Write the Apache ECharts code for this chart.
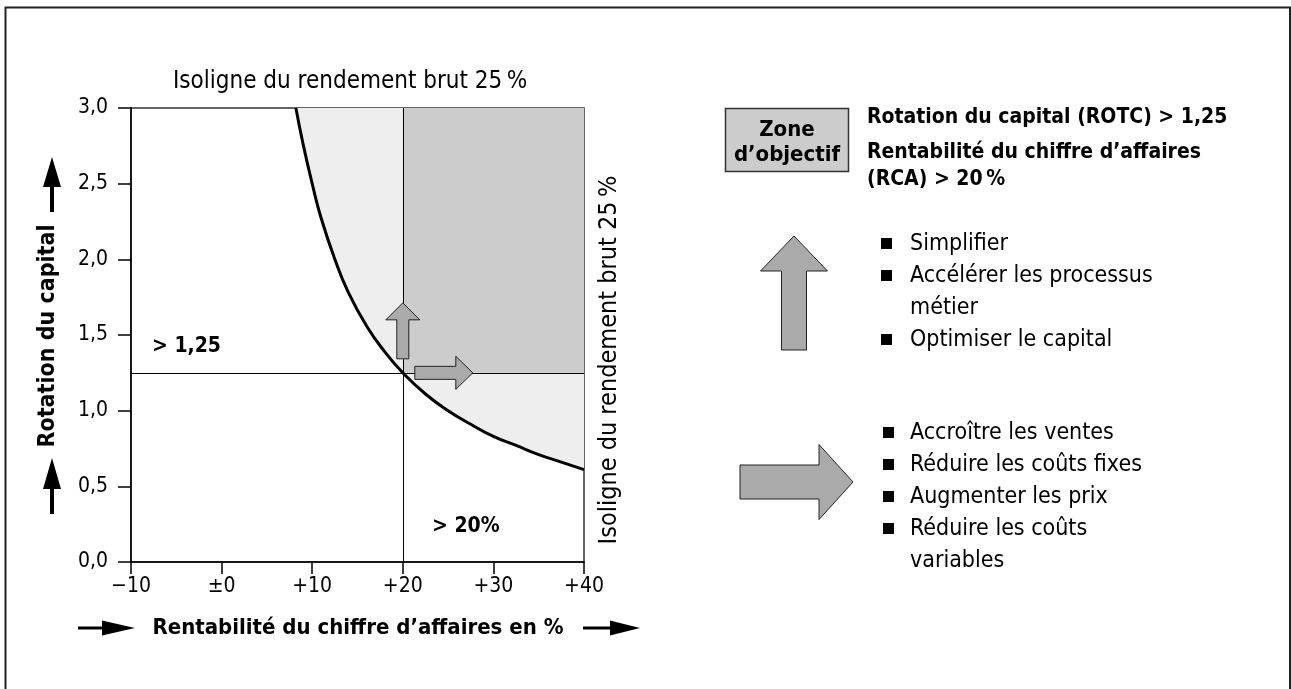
<!DOCTYPE html>
<html>
<head>
<meta charset="utf-8">
<script src="https://cdn.jsdelivr.net/npm/echarts@6/dist/echarts.min.js"></script>
<style>
html, body { margin: 0; padding: 0; background: #fff; }
#chart { width: 1291px; height: 689px; }
</style>
</head>
<body>
<div id="chart"></div>
<script>
// ticks
var xTicks = [-10, 0, 10, 20, 30, 40];
var xTickLabels = ['\u221210', '\u00b10', '+10', '+20', '+30', '+40'];
var yTickLabels = ['0,0', '0,5', '1,0', '1,5', '2,0', '2,5', '3,0'];

// isoligne du rendement brut 25 %
var isoRca = [8.2, 9, 10, 11, 12.5, 14, 16, 18, 20, 22.5, 25, 27.5, 30, 32.5, 35, 37.5, 40];
var isoRotc = [3.0, 2.76, 2.5, 2.27, 2.0, 1.78, 1.56, 1.39, 1.25, 1.11, 1.0, 0.91, 0.83, 0.77, 0.71, 0.66, 0.61];

// zone d'objectif
var zoneRca = 20;
var zoneRotc = 1.25;

var listUp = ['Simplifier', 'Acc\u00e9l\u00e9rer les processus\nm\u00e9tier', 'Optimiser le capital'];
var listRight = ['Accro\u00eetre les ventes', 'R\u00e9duire les co\u00fbts fixes', 'Augmenter les prix', 'R\u00e9duire les co\u00fbts\nvariables'];

var FONT = "'Liberation Sans Narrow','DejaVu Sans Condensed',sans-serif";

var isoData = isoRca.map(function (v, i) { return [v, isoRotc[i]]; });

var myChart = echarts.init(document.getElementById('chart'));

function txt(s, x, y, size, bold, align, rot) {
    return {
        type: 'text', x: x, y: y, rotation: rot || 0, z: 20,
        style: {
            text: s, fill: '#000',
            font: (bold ? 'bold ' : '') + size + 'px ' + FONT,
            textAlign: align || 'left', align: align || 'left',
            textVerticalAlign: 'middle', verticalAlign: 'middle',
            lineHeight: 32
        }
    };
}
function poly(pts, fill, stroke) {
    return {
        type: 'polygon', z: 20,
        shape: { points: pts },
        style: { fill: fill, stroke: stroke || null, lineWidth: 1 }
    };
}
// fleche vers le haut
function upArrow(cx, tipY, headW, headH, shaftW, bottom, fill, stroke) {
    var h = headW / 2, s = shaftW / 2, b = tipY + headH;
    return poly([[cx, tipY], [cx + h, b], [cx + s, b], [cx + s, bottom], [cx - s, bottom], [cx - s, b], [cx - h, b]], fill, stroke);
}
// fleche vers la droite
function rightArrow(cy, tipX, headH, headW, shaftH, left, fill, stroke) {
    var h = headH / 2, s = shaftH / 2, b = tipX - headW;
    return poly([[tipX, cy], [b, cy + h], [b, cy + s], [left, cy + s], [left, cy - s], [b, cy - s], [b, cy - h]], fill, stroke);
}

var graphics = [
    // cadre
    { type: 'rect', z: 0, shape: { x: 5.5, y: 7.5, width: 1284.5, height: 700 }, style: { fill: null, stroke: '#222', lineWidth: 2 } },
    txt('Isoligne du rendement brut 25\u202f%', 173, 82, 24, false),
    txt('Isoligne du rendement brut 25\u202f%', 609, 360, 25, false, 'center', Math.PI / 2),
    txt('Rotation du capital', 48, 336, 23, true, 'center', Math.PI / 2),
    txt('Rentabilit\u00e9 du chiffre d\u2019affaires en %', 358, 628, 22, true, 'center'),
    txt('> 1,25', 152, 347, 21, true),
    txt('> 20%', 432, 527, 21, true),
    upArrow(52, 157, 18, 30, 4, 212, '#000'),
    upArrow(52, 458, 18, 31, 4, 514, '#000'),
    rightArrow(628, 135, 15, 33, 3, 78, '#000'),
    rightArrow(628, 640, 15, 30, 3, 583, '#000'),
    // legende
    { type: 'rect', z: 20, shape: { x: 725.5, y: 108.5, width: 123, height: 63 }, style: { fill: '#cccccc', stroke: '#333', lineWidth: 1.5 } },
    txt('Zone', 787, 130, 22, true, 'center'),
    txt('d\u2019objectif', 787, 155, 22, true, 'center'),
    txt('Rotation du capital (ROTC) > 1,25', 867, 118, 21, true),
    txt('Rentabilit\u00e9 du chiffre d\u2019affaires', 867, 153, 21, true),
    txt('(RCA) > 20\u202f%', 867, 180, 21, true),
    upArrow(794, 236, 67, 35, 25, 350, '#aaaaaa', '#222'),
    rightArrow(482, 853, 75, 34, 34, 740, '#aaaaaa', '#222')
];

var yy = 243;
listUp.forEach(function (s) {
    graphics.push({ type: 'rect', z: 20, shape: { x: 881, y: yy - 5, width: 11, height: 11 }, style: { fill: '#000' } });
    var t = txt(s, 910, yy, 23, false);
    t.style.verticalAlign = t.style.textVerticalAlign = 'top';
    t.y = yy - 15;
    graphics.push(t);
    yy += 32 * s.split('\n').length;
});
yy = 432;
listRight.forEach(function (s) {
    graphics.push({ type: 'rect', z: 20, shape: { x: 883, y: yy - 5, width: 11, height: 11 }, style: { fill: '#000' } });
    var t = txt(s, 910, yy, 23, false);
    t.style.verticalAlign = t.style.textVerticalAlign = 'top';
    t.y = yy - 15;
    graphics.push(t);
    yy += 32 * s.split('\n').length;
});

var option = {
    animation: false,
    grid: { left: 131, top: 108, width: 453, height: 454, show: true, borderColor: '#333', borderWidth: 1.5, backgroundColor: 'transparent' },
    xAxis: {
        type: 'value', min: -10, max: 40, interval: 10,
        axisLine: { onZero: false, lineStyle: { color: '#000', width: 1.5 } },
        axisTick: { length: 12, lineStyle: { color: '#000', width: 1.5 } },
        axisLabel: { color: '#000', fontSize: 21, fontFamily: FONT, margin: 14, formatter: function (v) { return xTickLabels[xTicks.indexOf(v)]; } },
        splitLine: { show: false }
    },
    yAxis: {
        type: 'value', min: 0, max: 3, interval: 0.5,
        axisLine: { show: true, onZero: false, lineStyle: { color: '#000', width: 1.5 } },
        axisTick: { show: true, length: 13, lineStyle: { color: '#000', width: 1.5 } },
        axisLabel: { color: '#000', fontSize: 21, fontFamily: FONT, margin: 23, formatter: function (v) { return yTickLabels[Math.round(v / 0.5)]; } },
        splitLine: { show: false }
    },
    series: [
        { // surface au-dessus de l'isoligne
            type: 'line', data: isoData, smooth: true, symbol: 'none', z: 0,
            lineStyle: { width: 0 },
            areaStyle: { color: '#eeeeee', opacity: 1, origin: 'end' }
        },
        { // zone d'objectif + seuils
            type: 'line', data: [[zoneRca, zoneRotc]], symbol: 'none', z: 2,
            lineStyle: { width: 0 },
            markArea: { silent: true, z: 1, itemStyle: { color: '#cccccc', opacity: 1 }, data: [[{ coord: [zoneRca, zoneRotc] }, { coord: [40, 3] }]] },
            markLine: { silent: true, symbol: 'none', label: { show: false }, lineStyle: { color: '#000', width: 1, type: 'solid' },
                data: [{ xAxis: zoneRca }, { yAxis: zoneRotc }] }
        },
        { // isoligne
            type: 'line', data: isoData, smooth: true, symbol: 'none', z: 6,
            lineStyle: { color: '#000', width: 3 }
        }
    ],
    graphic: graphics
};
myChart.setOption(option);

// petites fleches ancrees au point (20 ; 1,25)
var p = myChart.convertToPixel({ gridIndex: 0 }, [zoneRca, zoneRotc]);
graphics.push(upArrow(p[0], p[1] - 70, 34, 17, 12, p[1] - 14, '#aaaaaa', '#222'));
graphics.push(rightArrow(p[1], p[0] + 70, 33, 17, 13, p[0] + 12, '#aaaaaa', '#222'));
myChart.setOption({ graphic: graphics });
</script>
</body>
</html>
